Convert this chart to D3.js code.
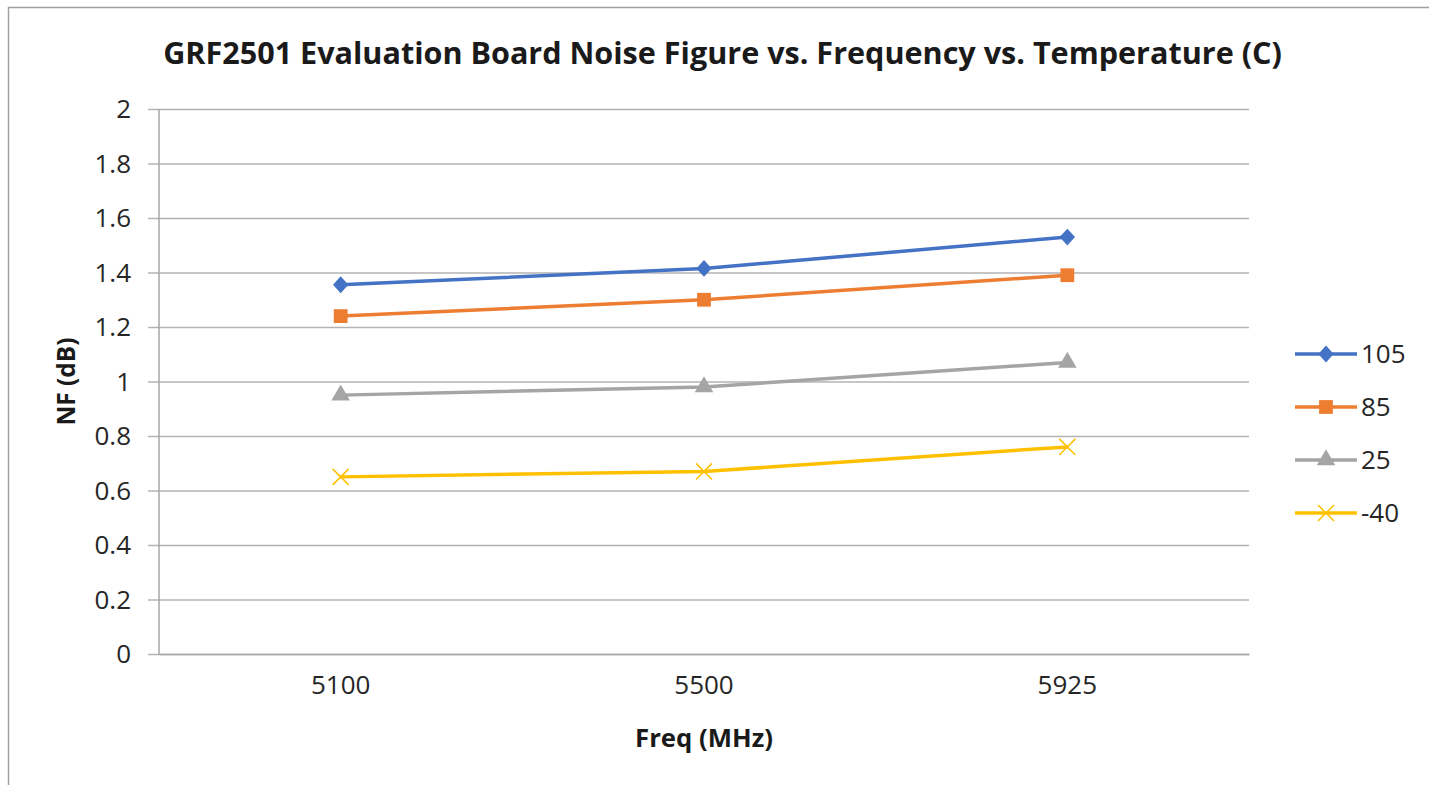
<!DOCTYPE html>
<html>
<head>
<meta charset="utf-8">
<script src="https://cdn.jsdelivr.net/npm/d3@7"></script>
<style>
  html, body { margin: 0; padding: 0; background: #fff; }
  text { font-family: "Open Sans", "Noto Sans", sans-serif; fill: #262626; }
</style>
</head>
<body>
<div id="chart"></div>
<script>
// data
const freqs = ["5100", "5500", "5925"];
const temps = ["105", "85", "25", "-40"];
const nf105 = [1.355, 1.415, 1.53];
const nf85 = [1.24, 1.30, 1.39];
const nf25 = [0.95, 0.98, 1.07];
const nfMinus40 = [0.65, 0.67, 0.76];
const yTicks = [0, 0.2, 0.4, 0.6, 0.8, 1, 1.2, 1.4, 1.6, 1.8, 2];

const series = [
  {name: temps[0], values: nf105, color: "#4472C4", marker: "diamond"},
  {name: temps[1], values: nf85, color: "#ED7D31", marker: "square"},
  {name: temps[2], values: nf25, color: "#A5A5A5", marker: "triangle"},
  {name: temps[3], values: nfMinus40, color: "#FFC000", marker: "cross"}
];

const W = 1429, H = 785;
const plot = {left: 159, right: 1249, top: 109, bottom: 654};

const svg = d3.select("#chart")
  .append("svg")
  .attr("width", W)
  .attr("height", H);

// chart area frame (only top and left edges show)
svg.append("line")
  .attr("x1", 8).attr("x2", W).attr("y1", 7.5).attr("y2", 7.5)
  .style("stroke", "#a0a0a0").style("stroke-width", 1.5);
svg.append("line")
  .attr("x1", 8.5).attr("x2", 8.5).attr("y1", 7).attr("y2", H)
  .style("stroke", "#a0a0a0").style("stroke-width", 1.5);

const x = d3.scaleBand()
  .domain(freqs)
  .range([plot.left, plot.right]);

const y = d3.scaleLinear()
  .domain([0, 2])
  .range([plot.bottom, plot.top]);

const cx = d => x(d) + x.bandwidth() / 2;

// y axis with gridlines
const yAxis = svg.append("g")
  .attr("class", "y axis")
  .attr("transform", `translate(${plot.left},0)`)
  .call(d3.axisLeft(y)
    .tickValues(yTicks)
    .tickSize(-(plot.right - plot.left))
    .tickPadding(28)
    .tickFormat(d3.format("~g")));

yAxis.select(".domain").remove();
yAxis.selectAll(".tick line")
  .attr("x1", -11)
  .style("stroke", "#b3b3b3")
  .style("stroke-width", 1.5);
yAxis.selectAll(".tick text")
  .style("font-size", "26px")
  .style("fill", "#262626")
  .attr("dy", "0.34em");

// vertical axis line
svg.append("line")
  .attr("x1", plot.left).attr("x2", plot.left)
  .attr("y1", plot.top).attr("y2", plot.bottom)
  .style("stroke", "#a6a6a6").style("stroke-width", 1.5);

// x axis labels
const xAxis = svg.append("g")
  .attr("class", "x axis")
  .attr("transform", `translate(0,${plot.bottom})`)
  .call(d3.axisBottom(x).tickSize(0).tickPadding(28));
xAxis.select(".domain")
  .style("stroke", "#a6a6a6").style("stroke-width", 1.5);
xAxis.selectAll(".tick text")
  .style("font-size", "26px")
  .style("fill", "#262626")
  .attr("dy", "0.45em");

// marker shapes
const symbolFor = {
  diamond: d3.symbol().type(d3.symbolDiamond2).size(150),
  square: d3.symbol().type(d3.symbolSquare).size(190),
  triangle: d3.symbol().type(d3.symbolTriangle).size(150),
  cross: d3.symbol().type(d3.symbolX).size(170)
};

function drawMarker(g, s) {
  const p = g.append("path").attr("d", symbolFor[s.marker]());
  if (s.marker === "cross") {
    p.style("fill", "none").style("stroke", s.color).style("stroke-width", 1.5);
  } else if (s.marker === "diamond") {
    p.style("fill", s.color).attr("transform", "scale(1,1.1)");
  } else {
    p.style("fill", s.color);
  }
}

const line = d3.line()
  .x((d, i) => cx(freqs[i]))
  .y(d => y(d));

series.forEach(s => {
  svg.append("path")
    .datum(s.values)
    .attr("d", line)
    .style("fill", "none")
    .style("stroke", s.color)
    .style("stroke-width", 3.5)
    .style("stroke-linejoin", "round")
    .style("stroke-linecap", "round");

  s.values.forEach((v, i) => {
    const g = svg.append("g")
      .attr("transform", `translate(${cx(freqs[i])},${y(v)})`);
    drawMarker(g, s);
  });
});

// legend
const legend = svg.append("g")
  .attr("transform", "translate(1295,354)");

series.forEach((s, i) => {
  const row = legend.append("g")
    .attr("transform", `translate(0,${i * 53})`);
  row.append("line")
    .attr("x1", 0).attr("x2", 62)
    .style("stroke", s.color)
    .style("stroke-width", 3.5);
  const m = row.append("g").attr("transform", "translate(31,0)");
  drawMarker(m, s);
  row.append("text")
    .attr("x", 66)
    .attr("dy", "0.36em")
    .style("font-size", "26px")
    .text(s.name);
});

// fit a bold text to a measured width
function fitWidth(t, target) {
  const w = t.node().getComputedTextLength();
  const fs = parseFloat(t.style("font-size"));
  t.style("font-size", (fs * target / w) + "px");
}

const title = svg.append("text")
  .attr("x", 722.5)
  .attr("y", 64)
  .attr("text-anchor", "middle")
  .style("font-size", "26px")
  .style("font-weight", "bold")
  .style("fill", "#1a1a1a")
  .text("GRF2501 Evaluation Board Noise Figure vs. Frequency vs. Temperature (C)");
fitWidth(title, 1119);

const xTitle = svg.append("text")
  .attr("x", 704)
  .attr("y", 747)
  .attr("text-anchor", "middle")
  .style("font-size", "26px")
  .style("font-weight", "bold")
  .style("fill", "#1a1a1a")
  .text("Freq (MHz)");
fitWidth(xTitle, 138);

const yTitle = svg.append("text")
  .attr("transform", `translate(75,${(plot.top + plot.bottom) / 2}) rotate(-90)`)
  .attr("text-anchor", "middle")
  .style("font-size", "26px")
  .style("font-weight", "bold")
  .style("fill", "#1a1a1a")
  .text("NF (dB)");
fitWidth(yTitle, 88);
</script>
</body>
</html>
